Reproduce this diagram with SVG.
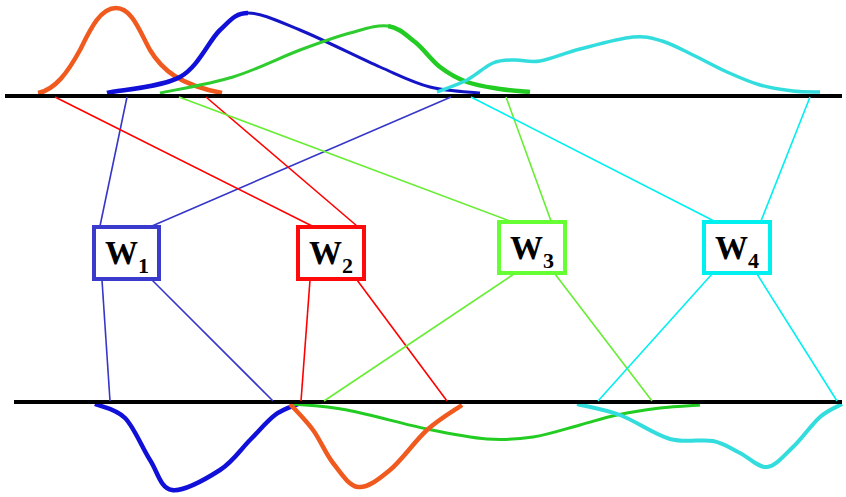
<svg xmlns="http://www.w3.org/2000/svg" width="846" height="497" viewBox="0 0 846 497">
<style>
.bar{stroke:#000;stroke-width:4;fill:none}
.c{fill:none;stroke-linecap:butt;stroke-linejoin:round}
.ln{stroke-width:1.6;fill:none}
.box{fill:#fff;stroke-width:4}
.lbl{font-family:"Liberation Serif","Times New Roman",serif;font-weight:bold;font-size:33px;fill:#000}
.sub{font-size:22px}
</style>
<rect width="846" height="497" fill="#fff"/>
<g id="curves">
<path class="c" stroke="#f05a1e" stroke-width="4.5" d="M38,93 C55,90 68,72 80,50 C90,30 100,8 116,8 C132,8 140,32 150,50 C162,70 180,85 222,93"/>
<path class="c" stroke="#1010d8" stroke-width="4.5" d="M107,93 C119,90 161,87.5 180,77 C198.8,66.5 208.7,40.7 220,30 C231.3,19.3 236,13 248,13"/>
<path class="c" stroke="#1515c8" stroke-width="3" d="M248,13 C261.3,13 278,21 300,30 C322,39 358.3,57.5 380,67 C401.7,76.5 413.3,82.7 430,87 C446.7,91.3 471.7,92 480,93"/>
<path class="c" stroke="#2ecc2e" stroke-width="3" d="M160,93 C172.2,90.3 209.7,84.2 233,77 C256.3,69.8 280.5,57.3 300,50 C319.5,42.7 335.3,37 350,33 C364.7,29 377.2,24.5 388,26"/>
<path class="c" stroke="#22cc22" stroke-width="4.5" d="M388,26 C398.8,27.5 406.3,35.2 415,42 C423.7,48.8 431.3,60.3 440,67 C448.7,73.7 457,78.3 467,82 C477,85.7 489.5,87.3 500,89 C510.5,90.7 525,91.5 530,92"/>
<path class="c" stroke="#33dddd" stroke-width="3.5" d="M437,92 C442,90 457.7,84.8 467,80 C476.3,75.2 485,66.3 493,63 C501,59.7 507.2,60.3 515,60 C522.8,59.7 529.2,62.8 540,61 C550.8,59.2 564.5,53 580,49 C595.5,45 619.3,38.3 633,37 C646.7,35.7 652,38 662,41 C672,44 682.2,49.8 693,55 C703.8,60.2 715.8,67 727,72 C738.2,77 749,81.8 760,85 C771,88.2 783,89.8 793,91 C803,92.2 815.5,91.8 820,92"/>
<path class="c" stroke="#1010d8" stroke-width="4.5" d="M95,404 C100,406.3 115.8,408.7 125,418 C134.2,427.3 142.2,448 150,460 C157.8,472 160.3,488.3 172,490 C183.7,491.7 207,478.3 220,470 C233,461.7 240.8,449.2 250,440 C259.2,430.8 267,421 275,415 C283,409 294.2,405.8 298,404"/>
<path class="c" stroke="#22cc22" stroke-width="3" d="M292,404 C301.2,405 324.5,405.8 347,410 C369.5,414.2 403.7,424.2 427,429 C450.3,433.8 469.3,437.7 487,439 C504.7,440.3 517.5,439.3 533,437 C548.5,434.7 566,428.7 580,425 C594,421.3 603.7,417.8 617,415 C630.3,412.2 646.2,409.7 660,408 C673.8,406.3 693.3,405.5 700,405"/>
<path class="c" stroke="#f05a1e" stroke-width="4.5" d="M290,404 C293.8,408.3 305.8,420.2 313,430 C320.2,439.8 325.5,453.5 333,463 C340.5,472.5 348.5,485.8 358,487 C367.5,488.2 378.5,479.5 390,470 C401.5,460.5 415,440.8 427,430 C439,419.2 456.2,409.2 462,405"/>
<path class="c" stroke="#33dddd" stroke-width="4" d="M577,404 C584.2,405.8 604.5,409.2 620,415 C635.5,420.8 654.5,434.7 670,439 C685.5,443.3 701.3,438.7 713,441 C724.7,443.3 731,448.7 740,453 C749,457.3 758.2,468 767,467 C775.8,466 784.2,455.3 793,447 C801.8,438.7 811.8,424.2 820,417 C828.2,409.8 838.3,406.2 842,404"/>
</g>
<g id="axes">
<line class="bar" x1="5" y1="96" x2="842" y2="96"/>
<line class="bar" x1="14" y1="402" x2="842" y2="402"/>
</g>
<g id="connectors">
<g stroke="#3636c8" class="ln">
<line x1="127" y1="97" x2="100" y2="226"/>
<line x1="451" y1="97" x2="152" y2="226"/>
<line x1="102" y1="280" x2="110" y2="401"/>
<line x1="152" y1="280" x2="273" y2="401"/>
</g>
<g stroke="#ff0000" class="ln">
<line x1="55" y1="97" x2="312" y2="226"/>
<line x1="206" y1="97" x2="357" y2="226"/>
<line x1="310" y1="280" x2="301" y2="401"/>
<line x1="357" y1="280" x2="447" y2="401"/>
</g>
<g stroke="#66ee33" class="ln">
<line x1="179" y1="97" x2="510" y2="221"/>
<line x1="506" y1="97" x2="551" y2="221"/>
<line x1="514" y1="274" x2="324" y2="401"/>
<line x1="555" y1="274" x2="652" y2="401"/>
</g>
<g stroke="#00f0f0" class="ln">
<line x1="471" y1="97" x2="714" y2="221"/>
<line x1="810" y1="97" x2="761" y2="221"/>
<line x1="712" y1="274" x2="598" y2="401"/>
<line x1="757" y1="274" x2="837" y2="401"/>
</g>
</g>
<g id="W1">
<rect class="box" stroke="#3a3acc" x="94" y="227" width="65" height="52"/>
<text class="lbl" x="127" y="264" text-anchor="middle">W<tspan class="sub" dy="9">1</tspan></text>
</g>
<g id="W2">
<rect class="box" stroke="#ff0a0a" x="298" y="227" width="66" height="52"/>
<text class="lbl" x="331" y="264" text-anchor="middle">W<tspan class="sub" dy="9">2</tspan></text>
</g>
<g id="W3">
<rect class="box" stroke="#66ff33" x="499" y="222" width="66" height="51"/>
<text class="lbl" x="532" y="259" text-anchor="middle">W<tspan class="sub" dy="9">3</tspan></text>
</g>
<g id="W4">
<rect class="box" stroke="#00f0f0" x="704" y="222" width="66" height="51"/>
<text class="lbl" x="737" y="259" text-anchor="middle">W<tspan class="sub" dy="9">4</tspan></text>
</g>
</svg>
